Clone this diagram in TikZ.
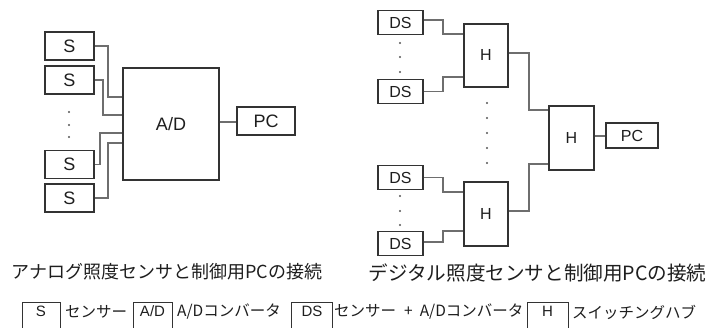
\documentclass[tikz,border=0pt]{standalone}
\usepackage{fontspec}
\setmainfont{Liberation Sans}
\newfontfamily\jpfont{Noto Sans CJK JP}
\definecolor{boxcol}{HTML}{333333}
\definecolor{conncol}{HTML}{6E6E6E}
\definecolor{txt}{HTML}{1E1E1E}
\definecolor{dotcol}{HTML}{555555}
\begin{document}
\begin{tikzpicture}[x=1pt,y=-1pt,
  box/.style={draw=boxcol,line width=1.4pt,inner sep=0pt,fill=white,text=txt},
  bigl/.style={font=\fontsize{18}{18}\selectfont},
  smalll/.style={font=\fontsize{16}{16}\selectfont},
  conn/.style={draw=conncol,line width=1.1pt},
  dotn/.style={circle,fill=dotcol,inner sep=0pt,minimum size=2.2pt},
  caption/.style={text=txt,inner sep=0pt},
  legtext/.style={font=\jpfont\fontsize{15.5}{15.5}\selectfont,text=txt,inner sep=0pt,anchor=west},
  legbox/.style={draw=boxcol,line width=1pt,inner sep=0pt,text=txt,minimum height=27pt,text height=11.5pt,text depth=11pt,font=\fontsize{15}{15}\selectfont}]
\useasboundingbox (0,0) rectangle (709,328);
\clip (0,0) rectangle (709,328);
% ---------- left diagram ----------
\node[box,bigl,minimum width=49pt,minimum height=28pt] (S1) at (69.5,46) {S};
\node[box,bigl,minimum width=49pt,minimum height=28pt] (S2) at (69.5,80) {S};
\node[box,bigl,minimum width=49pt,minimum height=28pt] (S3) at (69.5,164.5) {S};
\node[box,bigl,minimum width=49pt,minimum height=28pt] (S4) at (69.5,198) {S};
\node[dotn] (ld1) at (69,112) {};
\node[dotn] (ld2) at (69,125) {};
\node[dotn] (ld3) at (69,137) {};
\node[box,bigl,minimum width=96pt,minimum height=112pt] (AD) at (171,124) {A/D};
\node[box,bigl,minimum width=58pt,minimum height=28pt] (PC1) at (266,121) {PC};
\draw[conn] (S1.east) -| (108,97) -- (AD.west |- 0,97);
\draw[conn] (S2.east) -| (103,115) -- (AD.west |- 0,115);
\draw[conn] (S3.east) -| (100,133) -- (AD.west |- 0,133);
\draw[conn] (S4.east) -| (108,143) -- (AD.west |- 0,143);
\draw[conn] (AD.east |- 0,122) -- (PC1.west |- 0,122);
% ---------- right diagram ----------
\node[box,smalll,minimum width=45pt,minimum height=24pt] (DS1) at (400.5,22.5) {DS};
\node[box,smalll,minimum width=45pt,minimum height=24pt] (DS2) at (400.5,91.5) {DS};
\node[box,smalll,minimum width=45pt,minimum height=24pt] (DS3) at (400.5,177.5) {DS};
\node[box,smalll,minimum width=45pt,minimum height=24pt] (DS4) at (400.5,243.5) {DS};
\node[dotn] (rd1) at (400,43) {};
\node[dotn] (rd2) at (400,57) {};
\node[dotn] (rd3) at (400,72) {};
\node[dotn] (rd4) at (400,196) {};
\node[dotn] (rd5) at (400,211) {};
\node[dotn] (rd6) at (400,225) {};
\node[dotn] (md1) at (487,103) {};
\node[dotn] (md2) at (487,118) {};
\node[dotn] (md3) at (487,133) {};
\node[dotn] (md4) at (487,148) {};
\node[dotn] (md5) at (487,163) {};
\node[box,smalll,minimum width=44pt,minimum height=63pt] (H1) at (486,55.5) {H};
\node[box,smalll,minimum width=44pt,minimum height=64pt] (H2) at (486,214) {H};
\node[box,smalll,minimum width=45pt,minimum height=64pt] (HC) at (571.5,138) {H};
\node[box,smalll,minimum width=52pt,minimum height=25pt] (PC2) at (632,135.5) {PC};
\draw[conn] (DS1.east |- 0,20) -| (443,34) -- (H1.west |- 0,34);
\draw[conn] (DS2.east) -| (443,77) -- (H1.west |- 0,77);
\draw[conn] (DS3.east) -| (443,192) -- (H2.west |- 0,192);
\draw[conn] (DS4.east |- 0,242) -| (443,231) -- (H2.west |- 0,231);
\draw[conn] (H1.east |- 0,53) -| (529,110) -- (HC.west |- 0,110);
\draw[conn] (H2.east |- 0,211) -| (529,164) -- (HC.west |- 0,164);
\draw[conn] (HC.east |- 0,136) -- (PC2.west |- 0,136);
% ---------- captions ----------
\node[caption,font=\jpfont\fontsize{18}{18}\selectfont] (cap1) at (167,272) {アナログ照度センサと制御用PCの接続};
\node[caption,font=\jpfont\fontsize{19.6}{19.6}\selectfont] (cap2) at (537.5,273) {デジタル照度センサと制御用PCの接続};
% ---------- legend ----------
\node[legbox,minimum width=38pt] (LS) at (41,316.5) {S};
\node[legtext] (LT1) at (65,312) {センサー};
\node[legbox,minimum width=39pt] (LAD) at (152.5,316.5) {A/D};
\node[legtext] (LT2) at (177,312) {A/Dコンバータ};
\node[legbox,minimum width=41pt] (LDS) at (312,316.5) {DS};
\node[legtext] (LT3) at (334,312) {センサー\hspace{8pt}+\hspace{7pt}A/Dコンバータ};
\node[legbox,minimum width=41pt] (LH) at (547.5,316.5) {H};
\node[legtext] (LT4) at (572,312) {スイッチングハブ};
\end{tikzpicture}
\end{document}
